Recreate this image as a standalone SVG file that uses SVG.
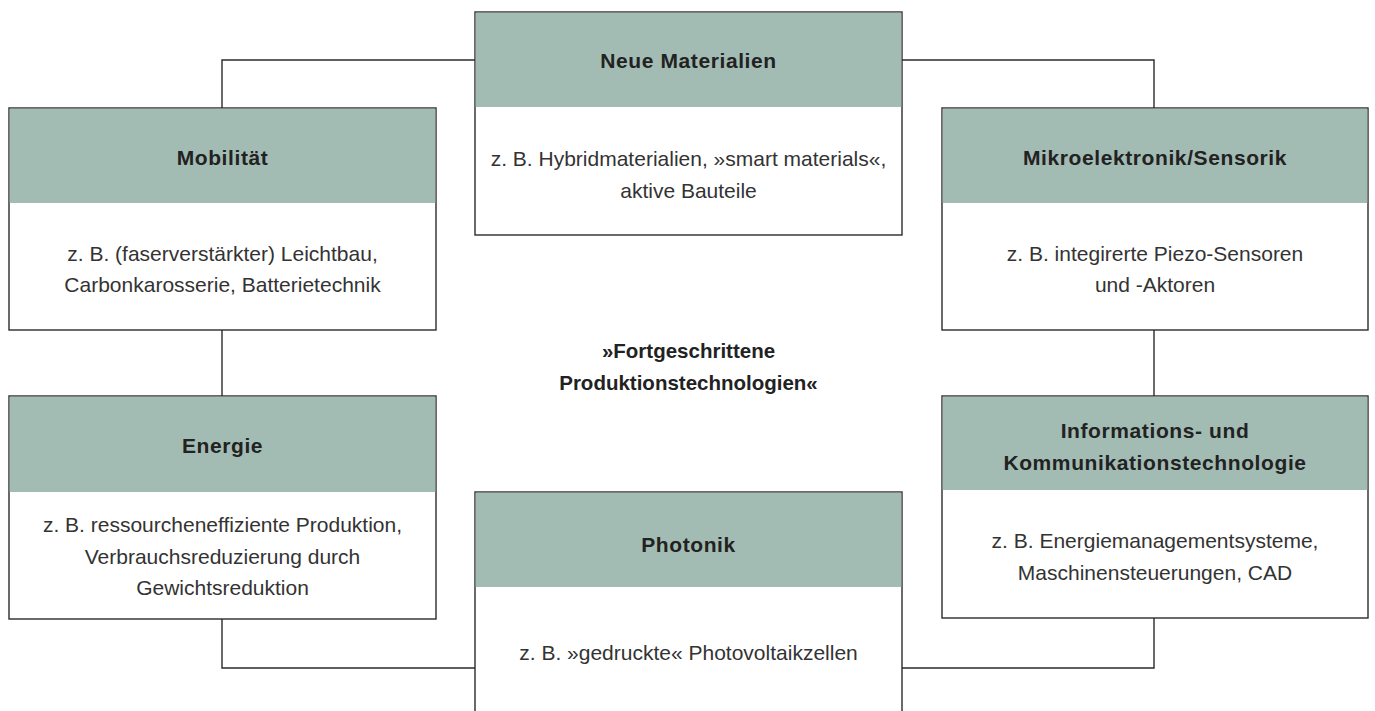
<svg xmlns="http://www.w3.org/2000/svg" width="1375" height="711" viewBox="0 0 1375 711">
<style>
.box{fill:#ffffff;stroke:#2b2b2b;stroke-width:1.4}
.hd{fill:#a2bcb4}
.ht{font-family:"Liberation Sans",Arial,sans-serif;font-weight:bold;font-size:21px;letter-spacing:0.6px;fill:#222222;text-anchor:middle}
.bt{font-family:"Liberation Sans",Arial,sans-serif;font-size:21px;fill:#333333;text-anchor:middle}
.ct{font-family:"Liberation Sans",Arial,sans-serif;font-weight:bold;font-size:20.5px;fill:#222222;text-anchor:middle}
.cn{fill:none;stroke:#2b2b2b;stroke-width:1.4}
</style>
<rect width="1375" height="711" fill="#ffffff"/>
<g id="connectors">
<path class="cn" d="M222 108 V60 H475"/>
<path class="cn" d="M902 60 H1154 V108"/>
<path class="cn" d="M222 330 V396"/>
<path class="cn" d="M1154 330 V396"/>
<path class="cn" d="M222 619 V668 H475"/>
<path class="cn" d="M1154 618 V668 H902"/>
</g>
<g id="neue-materialien">
<rect class="box" x="475" y="12" width="427" height="223"/>
<rect class="hd" x="475.7" y="12.7" width="425.6" height="94.3"/>
<text class="ht" x="688.5" y="68">Neue Materialien</text>
<text class="bt" x="688.5" y="166">z. B. Hybridmaterialien, »smart materials«,</text>
<text class="bt" x="688.5" y="198">aktive Bauteile</text>
</g>
<g id="mobilitaet">
<rect class="box" x="9" y="108" width="427" height="222"/>
<rect class="hd" x="9.7" y="108.7" width="425.6" height="94.3"/>
<text class="ht" x="222.5" y="165">Mobilität</text>
<text class="bt" x="222.5" y="261">z. B. (faserverstärkter) Leichtbau,</text>
<text class="bt" x="222.5" y="292">Carbonkarosserie, Batterietechnik</text>
</g>
<g id="mikroelektronik">
<rect class="box" x="942" y="108" width="426" height="222"/>
<rect class="hd" x="942.7" y="108.7" width="424.6" height="94.3"/>
<text class="ht" x="1155" y="165">Mikroelektronik/Sensorik</text>
<text class="bt" x="1155" y="261">z. B. integirerte Piezo-Sensoren</text>
<text class="bt" x="1155" y="292">und -Aktoren</text>
</g>
<g id="center-label">
<text class="ct" x="688.5" y="358">»Fortgeschrittene</text>
<text class="ct" x="688.5" y="390">Produktionstechnologien«</text>
</g>
<g id="energie">
<rect class="box" x="9" y="396" width="427" height="223"/>
<rect class="hd" x="9.7" y="396.7" width="425.6" height="95.3"/>
<text class="ht" x="222.5" y="453">Energie</text>
<text class="bt" x="222.5" y="532">z. B. ressourcheneffiziente Produktion,</text>
<text class="bt" x="222.5" y="563.5">Verbrauchsreduzierung durch</text>
<text class="bt" x="222.5" y="595">Gewichtsreduktion</text>
</g>
<g id="ikt">
<rect class="box" x="942" y="396" width="426" height="222"/>
<rect class="hd" x="942.7" y="396.7" width="424.6" height="93.3"/>
<text class="ht" x="1155" y="438">Informations- und</text>
<text class="ht" x="1155" y="470">Kommunikationstechnologie</text>
<text class="bt" x="1155" y="548">z. B. Energiemanagementsysteme,</text>
<text class="bt" x="1155" y="580">Maschinensteuerungen, CAD</text>
</g>
<g id="photonik">
<rect class="box" x="475" y="492" width="427" height="240"/>
<rect class="hd" x="475.7" y="492.7" width="425.6" height="94.3"/>
<text class="ht" x="688.5" y="552">Photonik</text>
<text class="bt" x="688.5" y="660">z. B. »gedruckte« Photovoltaikzellen</text>
</g>
</svg>
